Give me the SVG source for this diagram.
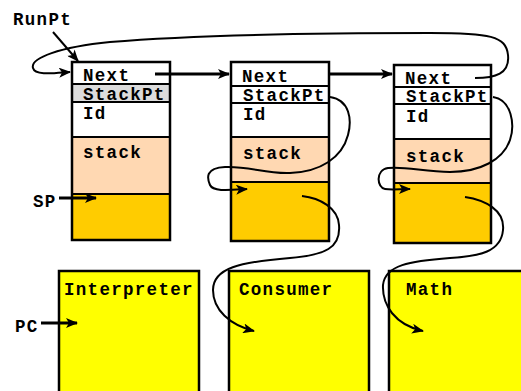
<svg xmlns="http://www.w3.org/2000/svg" width="521" height="391" viewBox="0 0 521 391">
<defs>
<style>
text{font-family:"Liberation Mono","Courier New",monospace;font-weight:bold;font-size:17.5px;letter-spacing:1.3px;fill:#000}
.box{stroke:#000;stroke-width:2.5}
.div{stroke:#000;stroke-width:2;fill:none}
.c{fill:none;stroke:#000;stroke-width:2}
.t{fill:none;stroke:#000;stroke-width:3}
</style>
<marker id="ah" viewBox="0 0 12 10" refX="11" refY="5" markerWidth="12" markerHeight="10" markerUnits="userSpaceOnUse" orient="auto">
<path d="M0,0 L12,5 L0,10 L3,5 Z" fill="#000"/>
</marker>
</defs>
<rect width="521" height="391" fill="#fff"/>

<g id="rec1">
<rect x="72" y="62" width="98" height="22" fill="#fff"/>
<rect x="72" y="84" width="98" height="18" fill="#dcdcdc"/>
<rect x="72" y="102" width="98" height="35" fill="#fff"/>
<rect x="72" y="137" width="98" height="57" fill="#ffd8b2"/>
<rect x="72" y="194" width="98" height="46" fill="#ffcc00"/>
<rect x="72" y="62" width="98" height="178" class="box" fill="none"/>
<path class="div" d="M72,84H170M72,102H170M72,137H170M72,194H170"/>
<text x="83" y="81">Next</text>
<text x="83" y="100">StackPt</text>
<text x="83" y="119">Id</text>
<text x="83" y="158">stack</text>
</g>

<g id="rec2">
<rect x="231" y="62" width="98" height="24" fill="#fff"/>
<rect x="231" y="86" width="98" height="17" fill="#fff"/>
<rect x="231" y="103" width="98" height="34" fill="#fff"/>
<rect x="231" y="137" width="98" height="45" fill="#ffd8b2"/>
<rect x="231" y="182" width="98" height="59" fill="#ffcc00"/>
<rect x="231" y="62" width="98" height="179" class="box" fill="none"/>
<path class="div" d="M231,86H329M231,103H329M231,137H329M231,182H329"/>
<text x="242" y="82">Next</text>
<text x="243" y="101">StackPt</text>
<text x="243" y="120">Id</text>
<text x="243" y="159">stack</text>
</g>

<g id="rec3">
<rect x="394" y="65" width="97" height="22" fill="#fff"/>
<rect x="394" y="87" width="97" height="17" fill="#fff"/>
<rect x="394" y="104" width="97" height="35" fill="#fff"/>
<rect x="394" y="139" width="97" height="44" fill="#ffd8b2"/>
<rect x="394" y="183" width="97" height="60" fill="#ffcc00"/>
<rect x="394" y="65" width="97" height="178" class="box" fill="none"/>
<path class="div" d="M394,87H491M394,104H491M394,139H491M394,183H491"/>
<text x="405" y="84">Next</text>
<text x="406" y="102">StackPt</text>
<text x="406" y="122">Id</text>
<text x="406" y="162">stack</text>
</g>

<g id="interpreter">
<rect x="59" y="271" width="140" height="130" fill="#ffff00" class="box"/>
<text x="64" y="295">Interpreter</text>
</g>
<g id="consumer">
<rect x="229" y="271" width="140" height="130" fill="#ffff00" class="box"/>
<text x="239" y="295">Consumer</text>
</g>
<g id="math">
<rect x="389" y="271" width="140" height="130" fill="#ffff00" class="box"/>
<text x="406" y="295">Math</text>
</g>

<g id="labels">
<text x="13" y="25">RunPt</text>
<text x="33" y="207">SP</text>
<text x="15" y="332">PC</text>
</g>

<g id="connectors">
<path class="c" d="M53,32 L78,61" marker-end="url(#ah)"/>
<path class="c" d="M475,78 C495,78 510,74 508,55 C506,36 490,33 430,33 C300,33 180,36 110,42 C60,47 30,58 33,68 C35,76 55,73 70,72" marker-end="url(#ah)"/>
<path class="t" d="M155,74 H229" marker-end="url(#ah)"/>
<path class="t" d="M330,74 H392" marker-end="url(#ah)"/>
<path class="c" d="M330,97 C350,100 352,120 348,135 C342,158 320,172 290,173 C265,174 250,166 225,167 C205,168 207,178 210,185 C213,192 230,190 247,189" marker-end="url(#ah)"/>
<path class="c" d="M302,196 C320,198 338,208 339,225 C341,248 325,255 290,258 C240,262 213,268 213,290 C213,310 230,325 254,331" marker-end="url(#ah)"/>
<path class="c" d="M493,97 C512,100 515,125 510,140 C503,160 480,172 450,172 C425,172 405,166 388,168 C375,170 377,188 385,189 C392,190 400,189 410,189" marker-end="url(#ah)"/>
<path class="c" d="M465,197 C485,200 505,210 503,230 C501,252 480,256 450,258 C410,261 385,265 383,285 C382,305 395,325 423,331" marker-end="url(#ah)"/>
<path class="t" d="M59,198 H96" marker-end="url(#ah)"/>
<path class="t" d="M41,323 H77" marker-end="url(#ah)"/>
</g>
</svg>
